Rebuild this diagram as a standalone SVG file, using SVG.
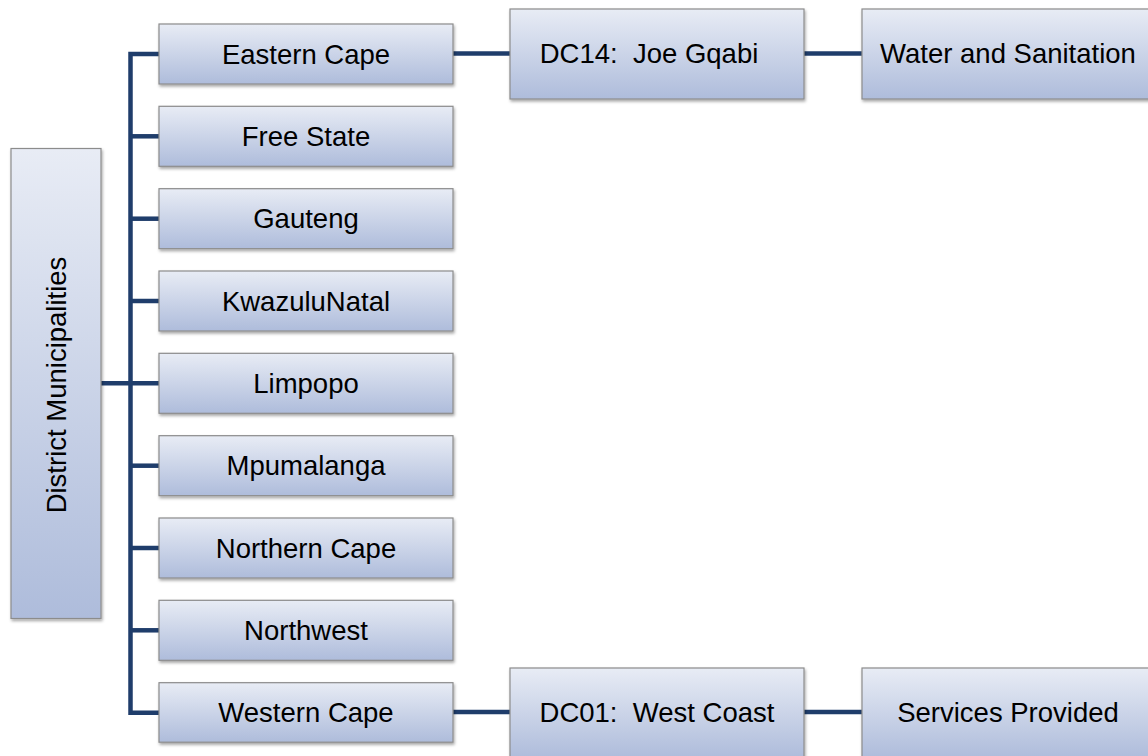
<svg xmlns="http://www.w3.org/2000/svg" width="1148" height="756" viewBox="0 0 1148 756">
<defs>
<linearGradient id="g" x1="0" y1="0" x2="0" y2="1">
<stop offset="0" stop-color="#E8ECF5"/>
<stop offset="1" stop-color="#AEBCDB"/>
</linearGradient>
<filter id="sh" x="-10%" y="-10%" width="120%" height="130%">
<feDropShadow dx="1" dy="2" stdDeviation="1.5" flood-color="#000" flood-opacity="0.35"/>
</filter>
</defs>
<style>
.box{fill:url(#g);stroke:#8C8C8C;stroke-width:1.2;filter:url(#sh)}
.t{font-family:"Liberation Sans",Arial,sans-serif;font-size:27.5px;fill:#000;text-anchor:middle}
.c{fill:none;stroke:#1F3D6B;stroke-width:4.5;stroke-linejoin:miter;stroke-linecap:butt}
</style>
<rect width="1148" height="756" fill="#fff"/>
<g id="connectors">
<path class="c" d="M159,54 H130.5 V712.7 H159"/>
<path class="c" d="M130.5,136.3 H159"/>
<path class="c" d="M130.5,218.7 H159"/>
<path class="c" d="M130.5,301 H159"/>
<path class="c" d="M101,383.3 H159"/>
<path class="c" d="M130.5,465.7 H159"/>
<path class="c" d="M130.5,548 H159"/>
<path class="c" d="M130.5,630.3 H159"/>
<path class="c" d="M453,53.5 H510"/>
<path class="c" d="M804,53.5 H862"/>
<path class="c" d="M453,712 H510"/>
<path class="c" d="M804,712 H862"/>
</g>
<g id="root"><rect class="box" x="11" y="148.5" width="90" height="470"/><text class="t" transform="translate(65.5,385) rotate(-90)" x="0" y="0">District Municipalities</text></g>
<g id="eastern-cape"><rect class="box" x="159" y="24" width="294" height="60"/><text class="t" x="306" y="63.5">Eastern Cape</text></g>
<g id="free-state"><rect class="box" x="159" y="106.3" width="294" height="60"/><text class="t" x="306" y="145.8">Free State</text></g>
<g id="gauteng"><rect class="box" x="159" y="188.7" width="294" height="60"/><text class="t" x="306" y="228.2">Gauteng</text></g>
<g id="kwazulunatal"><rect class="box" x="159" y="271" width="294" height="60"/><text class="t" x="306" y="310.5">KwazuluNatal</text></g>
<g id="limpopo"><rect class="box" x="159" y="353.3" width="294" height="60"/><text class="t" x="306" y="392.8">Limpopo</text></g>
<g id="mpumalanga"><rect class="box" x="159" y="435.7" width="294" height="60"/><text class="t" x="306" y="475.2">Mpumalanga</text></g>
<g id="northern-cape"><rect class="box" x="159" y="518" width="294" height="60"/><text class="t" x="306" y="557.5">Northern Cape</text></g>
<g id="northwest"><rect class="box" x="159" y="600.3" width="294" height="60"/><text class="t" x="306" y="639.8">Northwest</text></g>
<g id="western-cape"><rect class="box" x="159" y="682.7" width="294" height="59.5"/><text class="t" x="306" y="722">Western Cape</text></g>
<g id="dc14"><rect class="box" x="510" y="9" width="294" height="90"/><text class="t" x="649" y="63" xml:space="preserve">DC14:  Joe Gqabi</text></g>
<g id="water"><rect class="box" x="862" y="9" width="294" height="90"/><text class="t" x="1008" y="63">Water and Sanitation</text></g>
<g id="dc01"><rect class="box" x="510" y="668" width="294" height="90"/><text class="t" x="657" y="721.5" xml:space="preserve">DC01:  West Coast</text></g>
<g id="services"><rect class="box" x="862" y="668" width="294" height="90"/><text class="t" x="1008" y="721.5">Services Provided</text></g>
</svg>
